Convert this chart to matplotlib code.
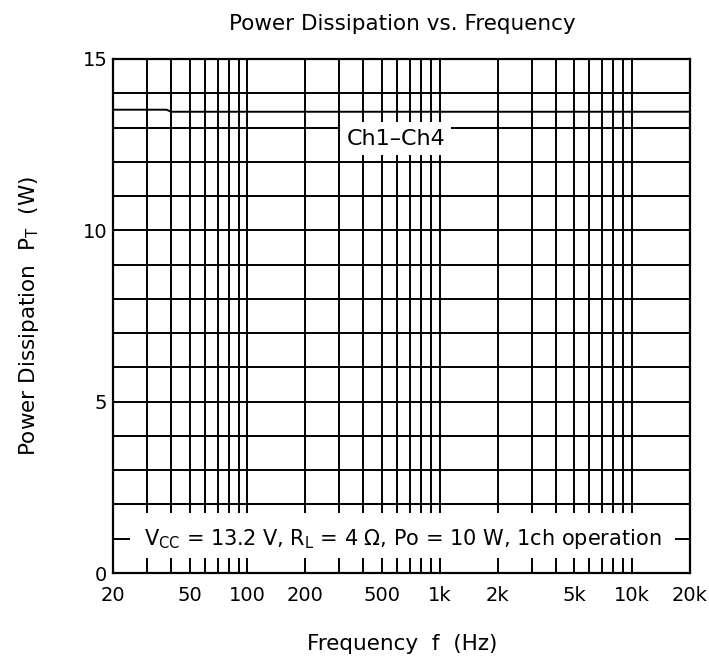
import numpy as np
import matplotlib
matplotlib.use("Agg")
import matplotlib.pyplot as plt
from matplotlib.patches import Rectangle
from matplotlib.ticker import FixedLocator, NullFormatter

plt.rcParams['font.family'] = ['DejaVu Sans']
plt.rcParams['mathtext.fontset'] = 'custom'
plt.rcParams['mathtext.rm'] = 'DejaVu Sans'
plt.rcParams['mathtext.it'] = 'DejaVu Sans'

# data
freq = [20, 38, 40, 100, 1000, 10000, 20000]
power = [13.52, 13.52, 13.46, 13.46, 13.46, 13.46, 13.46]

xtick_vals = [20, 50, 100, 200, 500, 1000, 2000, 5000, 10000, 20000]
xtick_labels = ['20', '50', '100', '200', '500', '1k', '2k', '5k', '10k', '20k']
ytick_vals = [0, 5, 10, 15]

FS_TICK = 14
FS = 15.5

fig = plt.figure(figsize=(7.09, 6.62), dpi=100)
ax = fig.add_axes([0.1594, 0.1344, 0.8138, 0.7765])

ax.set_xscale('log')
ax.set_xlim(20, 20000)
ax.set_ylim(0, 15)

# grid: every 1-9 multiple on x, every 1 W on y
minor_x = [m * 10 ** d for d in range(1, 5) for m in range(1, 10) if 20 <= m * 10 ** d <= 20000]
ax.xaxis.set_major_locator(FixedLocator(xtick_vals))
ax.xaxis.set_minor_locator(FixedLocator(minor_x))
ax.xaxis.set_minor_formatter(NullFormatter())
ax.set_xticklabels(xtick_labels)
ax.set_yticks(ytick_vals)
ax.yaxis.set_minor_locator(FixedLocator(np.arange(0, 16, 1)))
ax.grid(True, which='both', color='black', linewidth=1.4)
ax.set_axisbelow(True)
ax.tick_params(which='both', length=0, labelsize=FS_TICK)
ax.tick_params(axis='x', pad=9)
ax.tick_params(axis='y', pad=4)
for s in ax.spines.values():
    s.set_linewidth(1.6)

ax.plot(freq, power, color='black', linewidth=1.4, zorder=3)

# label boxes covering the grid
ax.add_patch(Rectangle((0.393, 0.813), 0.193, 0.064, transform=ax.transAxes,
                       facecolor='white', edgecolor='none', zorder=2.5))
ax.text(0.49, 0.845, 'Ch1\u2013Ch4', transform=ax.transAxes, ha='center', va='center',
        fontsize=16, zorder=4)

ax.add_patch(Rectangle((0.029, 0.029), 0.945, 0.088, transform=ax.transAxes,
                       facecolor='white', edgecolor='none', zorder=2.5))
ax.text(0.502, 0.066, r'V$_{\rm CC}$ = 13.2 V, R$_{\rm L}$ = 4 $\Omega$, Po = 10 W, 1ch operation',
        transform=ax.transAxes, ha='center', va='center', fontsize=15, zorder=4)

fig.text(0.567, 1 - 24 / 662, 'Power Dissipation vs. Frequency', ha='center', va='center', fontsize=FS)
fig.text(0.567, 0.027, 'Frequency  f  (Hz)', ha='center', va='center', fontsize=FS)
fig.text(0.041, 0.523, r'Power Dissipation  P$_{\rm T}$  (W)', ha='center', va='center',
         rotation=90, fontsize=FS)

fig.savefig('out.png', dpi=100)
